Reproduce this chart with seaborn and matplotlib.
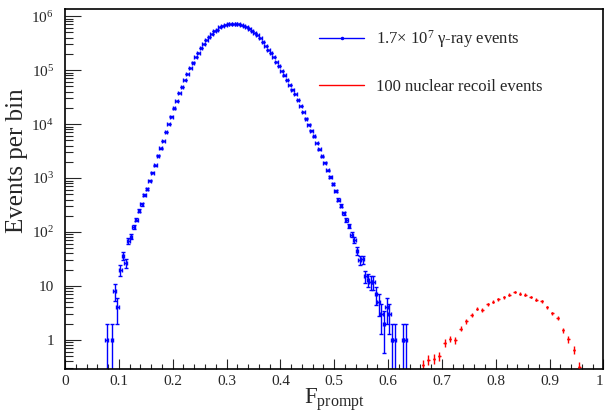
import numpy as np
import matplotlib
matplotlib.use("Agg")
import matplotlib.pyplot as plt
from matplotlib.lines import Line2D
import seaborn as sns

# gamma-ray events, 0.005 wide bins starting at 0.075
gamma_start = 0.075
gamma_width = 0.005
gamma_counts = [
    1, 0, 1, 8, 4, 20, 36, 27, 68, 82,
    124, 170, 250, 325, 485, 630, 900, 1260, 1720, 2570,
    3550, 4840, 7080, 10000, 13800, 19500, 26900, 37200, 49000, 64600,
    85100, 110000, 138000, 172000, 209000, 257000, 309000, 355000, 407000, 468000,
    525000, 562000, 617000, 646000, 676000, 700000, 708000, 724000, 724000, 708000,
    692000, 661000, 631000, 589000, 530000, 485000, 440000, 390000, 330000, 280000,
    240000, 204000, 172000, 141000, 117000, 97700, 79400, 64600, 53700, 43600,
    35500, 28200, 21400, 16600, 12600, 9770, 7590, 5890, 4470, 3390,
    2510, 1910, 1380, 1050, 776, 575, 398, 309, 224, 166,
    129, 89, 71, 45, 30, 31, 15, 13, 12, 12,
    7, 5, 3, 2, 4, 3, 1, 1, 0, 0,
    1, 1,
]

# nuclear recoil events (scaled to 100), 0.01 wide bins starting at 0.66
recoil_start = 0.66
recoil_width = 0.01
recoil_counts = [
    0.35, 0.43, 0.45, 0.50, 0.89, 1.06, 1.00, 1.63, 2.20, 2.95,
    3.80, 3.60, 4.55, 5.10, 5.70, 6.20, 6.90, 7.80, 7.20, 6.90,
    6.30, 5.60, 5.20, 4.05, 3.10, 2.60, 1.50, 1.03, 0.66, 0.31,
]

legend_labels = [r"1.7$\times$ 10$^{7}$ γ-ray events",
                 "100 nuclear recoil events"]
x_ticks = [0, 0.1, 0.2, 0.3, 0.4, 0.5, 0.6, 0.7, 0.8, 0.9, 1]
x_tick_labels = ["0", "0.1", "0.2", "0.3", "0.4", "0.5", "0.6", "0.7", "0.8", "0.9", "1"]
y_ticks = [1, 10, 1e2, 1e3, 1e4, 1e5, 1e6]
y_tick_labels = ["1", "10", r"$10^{2}$", r"$10^{3}$", r"$10^{4}$", r"$10^{5}$", r"$10^{6}$"]

sns.set_style("ticks")
plt.rcParams["font.family"] = ["Liberation Serif", "DejaVu Serif"]
plt.rcParams["mathtext.fontset"] = "custom"
plt.rcParams["mathtext.rm"] = "Liberation Serif"
plt.rcParams["mathtext.it"] = "Liberation Serif:italic"
plt.rcParams["mathtext.bf"] = "Liberation Serif:bold"

g = np.array(gamma_counts, dtype=float)
gx = gamma_start + gamma_width * (np.arange(len(g)) + 0.5)
keep = g > 0
gx, g = gx[keep], g[keep]

r = np.array(recoil_counts)
rx = recoil_start + recoil_width * (np.arange(len(r)) + 0.5)
r_err = np.sqrt(r * 0.02)

fig, ax = plt.subplots(figsize=(6.05, 4.12), dpi=100)
fig.subplots_adjust(left=0.1074, right=0.9975, top=0.978, bottom=0.1044)

ax.set_yscale("log", nonpositive="clip")

ax.errorbar(gx, g, yerr=np.sqrt(g), xerr=gamma_width / 2, fmt="none",
            ecolor="#0000ff", elinewidth=1.0, capsize=1.5, capthick=1.0)
sns.scatterplot(x=gx, y=g, ax=ax, color="#0000ff", s=3, linewidth=0, zorder=3)

ax.errorbar(rx, r, yerr=r_err, xerr=0.0025, fmt="none",
            ecolor="#ff0000", elinewidth=1.0, capsize=0)
sns.scatterplot(x=rx, y=r, ax=ax, color="#ff0000", s=3, linewidth=0, zorder=3)

ax.set_xlim(0, 1)
ax.set_ylim(0.29, 1.35e6)

ax.set_xticks(x_ticks)
ax.set_xticklabels(x_tick_labels)
ax.get_xticklabels()[-1].set_horizontalalignment("right")
ax.set_xticks(np.arange(0, 1.001, 0.02), minor=True)
ax.set_yticks(y_ticks)
ax.set_yticklabels(y_tick_labels)

ax.tick_params(axis="x", which="major", direction="in", length=7.5, width=0.8,
               labelsize=11, pad=4, top=False)
ax.tick_params(axis="x", which="minor", direction="in", length=3.8, width=0.8, top=False)
ax.tick_params(axis="y", which="major", direction="in", length=11.5, width=0.8,
               labelsize=11, pad=8, right=False)
ax.tick_params(axis="y", which="minor", direction="in", length=5.5, width=0.8, right=False)

for s in ax.spines.values():
    s.set_linewidth(1.2)
    s.set_color("black")

ax.set_ylabel("Events per bin", fontsize=18, labelpad=2, y=0.578)
ax.set_xlabel(r"$\mathrm{F}_{\mathrm{prompt}}$", fontsize=16.5, labelpad=-1)

handles = [
    Line2D([0], [0], color="#0000ff", lw=1.0, marker=".", markersize=3),
    Line2D([0], [0], color="#ff0000", lw=1.0),
]
ax.legend(handles, legend_labels, loc="upper left", bbox_to_anchor=(0.471, 0.948),
          frameon=False, fontsize=12, borderaxespad=0, borderpad=0,
          labelspacing=1.75, handlelength=2.75, handletextpad=0.7)

fig.savefig("out.png", dpi=100)
